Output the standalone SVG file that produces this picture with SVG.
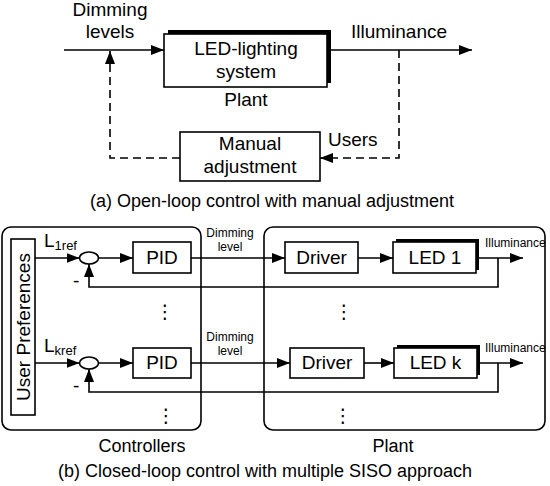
<svg xmlns="http://www.w3.org/2000/svg" width="550" height="486" viewBox="0 0 550 486">
<style>
text{font-family:"Liberation Sans",Arial,sans-serif;fill:#000}
.t{font-size:19px}
.c{font-size:18px}
.s{font-size:12px}
.sub{font-size:13px}
.m{text-anchor:middle}
.box{fill:#fff;stroke:#000;stroke-width:1.6}
.sh{fill:#000}
.ln{fill:none;stroke:#000;stroke-width:1.6}
.ar{marker-end:url(#ah)}
.da{stroke-dasharray:8,5}
.grp{fill:none;stroke:#000;stroke-width:1.6}
.dots{font-family:"DejaVu Sans",sans-serif;font-size:19px;text-anchor:middle}
</style>
<defs>
<marker id="ah" markerUnits="userSpaceOnUse" markerWidth="14" markerHeight="11" refX="13" refY="5" orient="auto">
<path d="M0,0 L13,5 L0,10 z" fill="#000"/>
</marker>
</defs>
<rect width="550" height="486" fill="#fff"/>

<!-- (a) open loop -->
<g id="led-system">
<rect class="sh" x="168" y="30" width="163" height="53"/>
<rect class="box" x="164" y="34" width="163" height="53"/>
<text class="t m" x="246" y="55">LED-lighting</text>
<text class="t m" x="246" y="78">system</text>
<text class="t m" x="246" y="106">Plant</text>
</g>
<g id="manual">
<rect class="box" x="180" y="132" width="140" height="49"/>
<text class="t m" x="250" y="150">Manual</text>
<text class="t m" x="250" y="173">adjustment</text>
</g>
<g id="labels-a">
<text class="t m" x="110" y="16">Dimming</text>
<text class="t m" x="110" y="38">levels</text>
<text class="t m" x="399" y="38">Illuminance</text>
<text class="t" x="328" y="146">Users</text>
<text class="c m" x="272" y="207">(a) Open-loop control with manual adjustment</text>
</g>

<!-- (b) closed loop -->
<g id="controllers">
<rect class="grp" x="2" y="227" width="199" height="203" rx="9"/>
<text class="c m" x="142" y="452">Controllers</text>
</g>
<g id="plant">
<rect class="grp" x="264" y="227" width="281" height="203" rx="9"/>
<text class="c m" x="393" y="452">Plant</text>
</g>
<g id="user-prefs">
<rect class="box" x="11" y="239" width="24" height="176"/>
<text class="t m" transform="translate(30,327) rotate(-90)">User Preferences</text>
</g>

<g id="row1">
<text class="t" x="44" y="247">L<tspan class="sub" dy="3">1ref</tspan></text>
<ellipse class="box" cx="89" cy="258" rx="9.5" ry="6"/>
<text class="t" x="73" y="287">-</text>
<rect class="box" x="133" y="242" width="58" height="31"/>
<text class="t m" x="162" y="264">PID</text>
<text class="s m" x="230" y="237">Dimming</text>
<text class="s m" x="230" y="251">level</text>
<rect class="box" x="285" y="242" width="73" height="31"/>
<text class="t m" x="321.5" y="264">Driver</text>
<rect class="sh" x="396" y="239" width="83" height="31"/>
<rect class="box" x="393" y="242" width="83" height="31"/>
<text class="t m" x="435" y="264">LED 1</text>
<text class="s" x="485" y="247">Illuminance</text>
</g>

<g id="rowk">
<text class="t" x="44" y="352">L<tspan class="sub" dy="3">kref</tspan></text>
<ellipse class="box" cx="89" cy="363" rx="9.5" ry="6"/>
<text class="t" x="73" y="392">-</text>
<rect class="box" x="133" y="348" width="58" height="30"/>
<text class="t m" x="162" y="369">PID</text>
<text class="s m" x="230" y="341">Dimming</text>
<text class="s m" x="230" y="355">level</text>
<rect class="box" x="290" y="348" width="74" height="30"/>
<text class="t m" x="327" y="369">Driver</text>
<rect class="sh" x="397" y="345" width="83" height="30"/>
<rect class="box" x="394" y="348" width="83" height="30"/>
<text class="t m" x="435.5" y="369">LED k</text>
<text class="s" x="485" y="352">Illuminance</text>
</g>

<g id="ellipsis">
<text class="dots" x="165" y="318">⋮</text>
<text class="dots" x="344" y="318">⋮</text>
<text class="dots" x="166" y="422">⋮</text>
<text class="dots" x="343" y="422">⋮</text>
</g>

<g id="connectors">
<path class="ln ar" d="M64,50 H164"/>
<path class="ln ar" d="M331,50 H472"/>
<path class="ln ar da" d="M399,50 V158 H320"/>
<path class="ln ar da" d="M180,158 H110 V51"/>

<path class="ln ar" d="M35,258 H79.5"/>
<path class="ln ar" d="M98.5,258 H133"/>
<path class="ln ar" d="M191,258 H285"/>
<path class="ln ar" d="M358,258 H393"/>
<path class="ln ar" d="M479,258 H523"/>
<path class="ln ar" d="M498,258 V287 H89 V264"/>

<path class="ln ar" d="M35,363 H79.5"/>
<path class="ln ar" d="M98.5,363 H133"/>
<path class="ln ar" d="M191,363 H290"/>
<path class="ln ar" d="M364,363 H394"/>
<path class="ln ar" d="M480,363 H523"/>
<path class="ln ar" d="M498,363 V392 H89 V369"/>
</g>

<text class="c m" x="265" y="477">(b) Closed-loop control with multiple SISO approach</text>
</svg>
